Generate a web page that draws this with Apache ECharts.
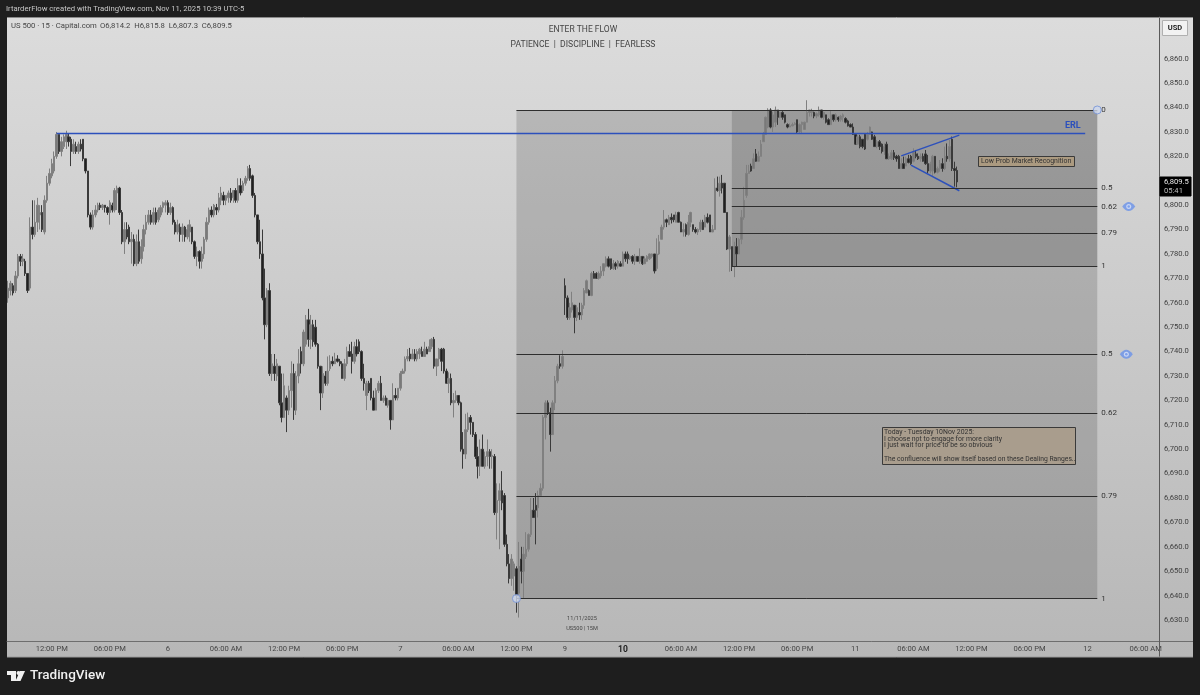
<!DOCTYPE html>
<html>
<head>
<meta charset="utf-8">
<style>html,body{margin:0;padding:0;background:#1e1e1e}#c{width:1200px;height:695px}</style>
<script src="https://cdn.jsdelivr.net/npm/echarts@6/dist/echarts.min.js"></script>
</head>
<body>
<div id="c"></div>
<script>
// Candles as [open, close, low, high], one array per session.
const nov5 = [[6762,6766,6760,6769],[6765,6768,6763,6769],[6767,6764,6763,6768],[6765,6771,6764,6773],[6771,6779,6770,6780],[6779,6777,6775,6780],[6777,6778,6775,6780],[6777,6772,6771,6778],[6772,6765,6764,6772],[6766,6791,6765,6795],
[6791,6788,6786,6802],[6788,6793,6787,6802],[6793,6800,6789,6803],[6796,6797,6790,6800],[6797,6790,6789,6800],[6789,6802,6788,6804],[6802,6809,6801,6812],[6809,6813,6808,6815],[6812,6817,6811,6819],[6814,6820,6813,6822],
[6820,6829,6819,6830],[6829,6822,6821,6829],[6822,6826,6820,6828],[6824,6828,6823,6829],[6826,6829,6823,6830.5],[6828,6826,6824,6829.5],[6827,6822,6816,6828],[6822,6825,6821,6827],[6824,6822,6821,6826],[6822,6825,6821,6826],
[6825,6823,6822,6827],[6827,6819,6818,6827],[6819,6814,6813,6819],[6814,6796,6795,6814],[6796,6791,6790,6797],[6791,6796,6790,6798],[6796,6798,6795,6800],[6798,6800,6797,6801],[6800,6799,6798,6801],[6799,6800,6798,6800.5],
[6800,6799,6797,6800],[6799,6797,6796,6799.5],[6797,6801,6792,6802],[6800,6798,6797,6801],[6798,6806,6797,6807],[6805,6807,6798,6808],[6807,6797,6796,6807.5],[6797,6785,6784,6798],[6785,6790,6780,6793],[6790,6787,6786,6793],
[6791,6785,6784,6792],[6785,6786,6776,6789],[6786,6776,6775,6788],[6776,6785,6775,6788],[6785,6777,6776,6790],[6778,6783,6776,6786],[6783,6790,6781,6792],[6790,6793,6788,6796],[6793,6796,6792,6798],[6796,6793,6792,6798],
[6793,6797,6792,6799],[6797,6793,6792,6799],[6794,6798,6793,6799],[6796,6799,6795,6800],[6799,6801,6797,6801.5],[6800,6801,6797,6802]];

const nov6 = [[6801,6797,6796,6802],[6797,6799,6796,6801],[6799,6793,6792,6799.5],[6793,6789,6788,6794],[6789,6792,6788,6794],[6791,6788,6785,6792.5],[6788,6791,6785,6792.5],[6791,6787,6785,6791.5],[6787,6790,6786,6792],[6789,6792,6785,6794],
[6791,6785,6784,6791],[6785,6779,6778,6785.5],[6779,6781,6775,6783],[6781,6777,6774,6781.5],[6777,6780,6774,6783],[6780,6786,6778,6787],[6786,6793,6785,6795],[6793,6798,6792,6799],[6798,6796,6795,6799.5],[6796,6800,6795,6800.5],
[6799,6798,6796,6800.5],[6798,6803,6797,6805],[6802,6805,6800,6807.5],[6804,6802,6800,6805.5],[6802,6804,6800,6804],[6803,6805,6801,6806],[6805,6802,6801,6807],[6803,6806,6801,6806],[6806,6802,6801,6807],[6802,6808,6801,6811],
[6808,6805,6804,6811],[6806,6809,6805,6810],[6809,6811,6808,6812],[6811,6815,6810,6816],[6815,6811,6810,6816.5],[6812,6804,6803,6812.5],[6804,6796,6795,6805],[6796,6785,6784,6796],[6785,6780,6778,6794],[6780,6762,6761,6790],
[6762,6751,6745,6774],[6751,6765,6750,6766],[6765,6731,6730,6768],[6731,6735,6728,6739],[6734,6731,6728,6739],[6730,6735,6728,6737],[6734,6719,6718,6734],[6719,6713,6711,6731],[6713,6726,6713,6731],[6721,6716,6707,6722],
[6716,6724,6714,6726],[6724,6731,6717,6736],[6731,6716,6712,6735],[6716,6730,6714,6732],[6730,6735,6727,6741],[6740,6735,6731,6742],[6735,6748,6734,6749],[6743,6753,6742,6755],[6753,6745,6742,6757.5],[6745,6751,6741,6755],
[6751,6744,6742,6753],[6750,6743,6742,6753],[6743,6734,6733,6743.5],[6734,6723,6716,6734],[6723,6731,6721,6734],[6730,6727,6726,6732],[6727,6732,6726,6738],[6733,6736,6732,6738.5],[6736,6735,6734,6738],[6735,6737,6735,6739.5],
[6737,6736,6735.5,6738.5],[6736,6735,6734,6737],[6735,6729,6729,6736],[6729,6735,6728,6737],[6735,6740,6734,6742],[6740,6738,6738,6743],[6739,6736,6731,6744],[6736,6742,6735,6744],[6742,6739,6738,6745],[6744,6740,6739,6745],
[6740,6729,6728,6740.5],[6729,6727,6724,6735],[6722,6727,6716,6728],[6727,6724,6723,6728],[6729,6721,6720,6729],[6721,6716,6716,6724],[6716,6724,6716,6725],[6724,6727,6723,6728],[6727,6720,6720,6730],[6720,6721,6719,6722],
[6721,6718,6718,6722],[6718,6720,6717,6721],[6720,6712,6708,6720],[6712,6722,6712,6727],[6722,6721,6720,6725],[6721,6725,6720,6725]];

const nov7 = [[6725,6731,6724,6732],[6731,6732,6731,6733],[6732,6737,6731,6738],[6737,6738,6736,6741],[6739,6737,6736,6741.5],[6737,6739,6737,6741],[6739,6737,6736,6741],[6737,6740,6736,6741],[6739,6741,6737,6741.5],[6740,6738,6738,6742],
[6738,6741,6738,6744],[6741,6739,6739,6742],[6740,6742,6740,6745],[6742,6745,6741,6745.5],[6745,6734,6733,6746],[6734,6737,6730,6737],[6737,6741,6734,6741.5],[6741,6736,6732,6741.5],[6741,6732,6731,6741.5],[6732,6727,6727,6733],
[6727,6729,6723,6731.5],[6729,6719,6718,6731],[6719,6720,6713,6723],[6720,6722,6719,6724],[6722,6719,6718,6722],[6719,6700,6699,6719.5],[6700,6698,6692,6707],[6698,6708,6696,6714.5],[6708,6713,6707,6715],[6713,6711,6706,6714],
[6711,6706,6705,6711],[6706,6697,6696,6707],[6697,6693,6688,6701],[6693,6700,6689,6704],[6700,6693,6693,6706],[6693,6697,6692,6699],[6697,6699,6693,6704],[6699,6697,6692,6700],[6697,6697.5,6692,6700],[6697,6674,6673,6698],
[6674,6679,6663,6686],[6679,6683,6659,6686],[6683,6678,6675,6691],[6681,6661,6660,6682],[6661,6653,6652,6665],[6653,6647,6645,6657],[6647,6655,6644,6657],[6648,6653,6642,6654],[6651,6640,6633,6652],[6641,6652,6631,6662],
[6655,6650,6645,6660],[6650,6657,6639,6660],[6656,6659,6655,6666],[6659,6665,6658,6665.5],[6665,6675,6664,6680],[6675,6672,6672,6680],[6677,6675,6661,6682],[6676,6681,6672,6683],[6681,6684,6681,6686],[6684,6713,6683,6714],
[6713,6719,6704,6720],[6719,6715,6714,6720],[6715,6706,6699,6717],[6706,6719,6706,6720],[6719,6728,6716,6730],[6728,6734,6727,6735],[6735,6734,6733,6738.5],[6734,6738,6733,6740.5]];

const nov9 = [[6767,6762,6755,6770],[6762,6754,6753,6763],[6754,6758,6753,6760],[6757,6760,6756,6764.5],[6759,6754,6747.5,6759],[6754,6758,6752.5,6759],[6756,6755,6753,6760],[6755,6759,6753,6760],[6759,6765,6757.5,6766],[6764,6769,6764,6769.5],
[6765,6763,6763,6765.5],[6763,6772,6762.7,6772.7],[6772,6770,6770,6773],[6772,6770,6770,6772.5],[6770,6772,6769.5,6772.8],[6771,6773,6770,6775],[6773,6776,6771,6776],[6775,6778,6774.5,6779],[6778,6775,6774.5,6779],[6778,6774,6773.5,6778],
[6774,6776,6773.5,6777.5],[6776,6775,6773.5,6776.8],[6775,6777,6774,6777.5],[6776,6775,6774.8,6777]];

const nov10 = [[6775,6780,6775,6781],[6780,6778,6776.8,6781],[6780,6778,6776,6781],[6778,6779,6777.5,6779.5],[6779,6777,6776,6779.5],[6777,6779,6775.5,6780],[6779,6777,6776.8,6779],[6777,6779,6776,6782.3],[6779,6776,6775.5,6779],[6776,6778,6776,6779],
[6777,6779,6776.8,6779.5],[6778,6780,6777.5,6780.2],[6779,6780,6778.2,6780.2],[6780,6773,6772,6780],[6774,6780,6773,6786.4],[6780,6785,6779.6,6787.8],[6786,6791,6786,6792],[6791,6794,6790,6798],[6794,6793,6791,6794.5],[6792,6795,6792,6796],
[6795,6794,6792.5,6796.6],[6796,6794,6793,6796],[6793,6796,6793,6797.3],[6797,6793,6793,6797.3],[6793,6789,6789,6793.3],[6789,6790,6787.1,6792.5],[6792,6788,6787.1,6792.5],[6788,6793,6787.5,6796],[6793,6797,6791,6797.3],[6792,6790,6789.1,6792],
[6790,6789,6788.4,6791],[6789,6790,6787.8,6790.5],[6790,6793,6789,6794],[6793,6790,6789.8,6794],[6791,6795,6791,6796],[6795,6793,6792.5,6796.6],[6796,6789,6789,6796],[6789,6790,6789,6791.9],[6790,6807,6789.8,6811],[6807,6806,6805.5,6811.7],
[6806,6809,6803.5,6811.7],[6809,6807,6804.8,6812.4],[6809,6797,6797,6809],[6797,6782,6781.6,6797],[6782,6787,6772.7,6787.8],[6783,6775,6773,6783],[6775,6783,6770.5,6785],[6783,6780,6775,6786.5],[6780,6786,6780,6786.5],[6786,6795,6784,6798],
[6795,6802,6794,6807.5],[6804,6813,6803,6816.5],[6813,6814,6813,6816.5],[6816,6814,6813.7,6817],[6815,6819,6815,6821.2],[6821,6818,6817.8,6823],[6818,6820,6817.8,6822],[6820,6825,6820,6826.7],[6826,6829,6826,6830],[6829,6836,6829,6836.3],
[6832,6839,6831.5,6839.7],[6839,6832,6831.5,6839.7],[6832,6837,6830,6838.3],[6834,6839,6832,6840.4],[6839,6836,6832.9,6839],[6836,6838,6835.6,6838.3],[6838,6836,6835,6838.5],[6837,6834,6833.5,6837],[6833,6832,6831.5,6833.5],[6832,6832.5,6832,6833.5],
[6832.5,6833,6832.3,6833.8],[6833,6833.5,6832.8,6834],[6835,6830,6829.4,6835],[6830,6833,6829.4,6833.5],[6833,6834,6829.4,6834.2],[6831,6834,6830.8,6834.2],[6834,6838,6834,6843],[6838,6839,6836.3,6839],[6838,6838.5,6836.3,6839.5],[6838,6836.5,6835.6,6838.3],
[6836.5,6837.5,6835.6,6838],[6837,6839,6836.3,6840.4],[6839,6836,6835.6,6839],[6836,6838,6835,6838.3],[6837,6834,6833.5,6837],[6835,6833,6833,6835.6],[6833,6837,6833,6839],[6837,6835,6834.2,6837],[6835,6837,6834.2,6837.6],[6836,6835,6834.2,6836.3],
[6835,6836.5,6834.2,6837],[6836,6837,6834.2,6837.6],[6835.5,6834,6833.5,6836],[6834.5,6832.5,6832.2,6835],[6833,6832,6832,6833.5],[6832,6829,6828.8,6833.5]];

const nov11 = [[6829,6825,6824.7,6829.5],[6825,6828,6824.7,6828.8],[6828,6824,6823.3,6828.8],[6827,6824,6823.3,6827],[6829,6823,6822.6,6829.5],[6827,6829,6826.5,6830],[6829,6832,6828.8,6832.2],[6830,6827,6826.7,6830.1],[6828,6824,6824,6828.8],[6824,6826,6823.3,6826.7],
[6826,6824,6822.6,6826.7],[6825,6822,6821.2,6825.3],[6822,6824,6820.6,6825.3],[6825,6819,6819,6826],[6819,6820,6818.5,6821.2],[6819,6821.5,6818.5,6822.6],[6821.5,6819.5,6818.5,6822.6],[6820,6819,6817.8,6820.6],[6820,6815,6815,6820.6],[6815,6817,6815,6819.2],
[6817,6815,6815,6819.9],[6816,6819,6816,6819.9],[6819,6817.5,6817.1,6820.6],[6820,6817,6816.5,6820.6],[6818,6822,6817.5,6823.3],[6821,6820,6819.2,6822.6],[6820,6819,6818.5,6821.2],[6819,6820,6817.8,6821.2],[6820,6818,6817.8,6821.2],[6821,6817,6816.5,6822.6],
[6817,6814,6813,6820.6],[6814,6817,6813,6817.8],[6814,6820,6811.7,6820.6],[6820,6813.5,6813,6820],[6813.5,6815,6813,6815.8],[6815,6817,6813.7,6818.5],[6817,6815,6813.7,6819.2],[6815,6820,6814.4,6824],[6820,6819,6817.8,6825.3],[6819,6824,6817.8,6826.7],
[6827,6815,6814,6828.1],[6815,6814.2,6807.6,6817.8],[6814.2,6809.5,6807.3,6815.8]];

// Time axis: 15-minute slots, and the slots that carry a label
const slotCount = 476;
const tickSlots  = [18,42,66,90,114,138,162,186,210,230,254,278,302,326,350,374,398,422,446,470];
const tickLabels = ['12:00 PM','06:00 PM','6','06:00 AM','12:00 PM','06:00 PM','7','06:00 AM','12:00 PM','9','10','06:00 AM','12:00 PM','06:00 PM','11','06:00 AM','12:00 PM','06:00 PM','12','06:00 AM'];
const priceTicks = [6630,6640,6650,6660,6670,6680,6690,6700,6710,6720,6730,6740,6750,6760,6770,6780,6790,6800,6810,6820,6830,6840,6850,6860];

// Dealing ranges: levels
const fibNames = ['0','0.5','0.62','0.79','1'];
const bigLevels = [6839,6738.9,6714.8,6680.8,6638.8];
const smallLevels = [6839,6807,6799.4,6788.5,6775];
const bigStart = 210, smallStart = 299, rangeEnd = 450;

const erlLevel = 6829.4, erlStart = 20, erlEnd = 445;
const wedgeUpper = [[369,6820.2],[393,6828.7]];
const wedgeLower = [[373,6816.4],[393,6805.9]];
const anchors = [[rangeEnd,6839],[bigStart,6638.8]];
const eyes = [[463,6799.4],[462,6738.9]];

const candles = [].concat(nov5,nov6,nov7,nov9,nov10,nov11);
const categories = Array.from({length:slotCount},(_,i)=>{const k=tickSlots.indexOf(i);return k>=0?tickLabels[k]:'';});

const DARK='#1e1e1e', BLUE='#2c50bc', FONT='Roboto, "Open Sans", sans-serif', TXT='#454545';
const text=(x,y,s,size,fill,o)=>({type:'text',x:x,y:y,silent:true,z:20,style:Object.assign({text:s,fontSize:size,fill:fill,fontFamily:FONT,textVerticalAlign:'top',verticalAlign:'top'},o||{})});
const box=(x,y,w,h,fill,stroke)=>({type:'rect',shape:{x:x,y:y,width:w,height:h},silent:true,z:19,style:{fill:fill,stroke:stroke,lineWidth:1}});
const seg=(x1,y1,x2,y2,c)=>({type:'line',shape:{x1:x1,y1:y1,x2:x2,y2:y2},silent:true,z:18,style:{stroke:c,lineWidth:1}});

const chart = echarts.init(document.getElementById('c'),null,{renderer:'canvas'});
chart.setOption({
  animation:false,
  backgroundColor:DARK,
  grid:{left:7,right:41,top:17,bottom:54,containLabel:false},
  xAxis:{type:'category',data:categories,boundaryGap:true,
    axisLine:{show:true,lineStyle:{color:'#6e6e6e',width:1}},axisTick:{show:false},splitLine:{show:false},
    axisLabel:{interval:(i,v)=>v!=='',margin:4,fontSize:7.6,color:TXT,fontFamily:FONT,hideOverlap:false,
      formatter:v=>v==='10'?'{b|10}':v,rich:{b:{fontWeight:'bold',fontSize:8.5,color:'#222',fontFamily:FONT}}}},
  yAxis:{type:'value',position:'right',min:6621.4,max:6877.1,scale:true,
    axisLine:{show:true,onZero:false,lineStyle:{color:'#5a5a5a',width:1}},axisTick:{show:false,customValues:priceTicks},splitLine:{show:false},
    axisLabel:{customValues:priceTicks,margin:5,fontSize:7.6,color:'#3e3e3e',fontFamily:FONT,formatter:v=>v.toLocaleString('en-US',{minimumFractionDigits:1,maximumFractionDigits:1})}},
  graphic:[
    {type:'rect',shape:{x:7,y:17,width:1186,height:640},silent:true,z:-10,
      style:{fill:new echarts.graphic.LinearGradient(0,0,0,1,[{offset:0,color:'#dcdcdc'},{offset:1,color:'#b7b7b7'}])}},
    seg(7,17.5,1193,17.5,'#8a8a8a'),seg(1159,641.5,1193,641.5,'#6e6e6e'),seg(1159.5,641,1159.5,657,'#5a5a5a'),seg(7,657,1193,657,'#9a9a9a'),
    text(6,5,'IrtarderFlow created with TradingView.com, Nov 11, 2025 10:39 UTC-5',7.7,'#c8c8c8'),
    text(11,22,'US 500 · 15 · Capital.com',7.7,TXT),
    text(100,22,'O6,814.2  H6,815.8  L6,807.3  C6,809.5',7.7,TXT),
    text(583,25.5,'ENTER THE FLOW',8.5,TXT,{textAlign:'center'}),
    text(583,40.5,'PATIENCE  |  DISCIPLINE  |  FEARLESS',8.6,TXT,{textAlign:'center'}),
    text(582,615.5,'11/11/2025',5.6,TXT,{textAlign:'center'}),
    text(582,625.5,'US500 | 15M',5.6,TXT,{textAlign:'center'}),
    text(1065,121.5,'ERL',9,BLUE,{fontWeight:'bold'}),
    box(978.5,156.5,96,10,'#ab9a80','#3a3a3a'),
    text(981,158,'Low Prob Market Recognition',6.9,'#333'),
    box(882.5,427.5,193,37,'#a99d8d','#3a3a3a'),
    text(884,428.5,'Today - Tuesday 10Nov 2025:',6.9,'#333'),
    text(884,435.3,'I choose not to engage for more clarity',6.9,'#333'),
    text(884,442.1,'I just wait for price to be so obvious',6.9,'#333'),
    text(884,455.7,'The confluence will show itself based on these Dealing Ranges..',6.75,'#333'),
    box(1162.5,20.5,25,15,'#f2f2f2','#b0b0b0'),
    text(1175,24,'USD',7.5,'#222',{textAlign:'center',fontWeight:'bold'}),
    box(1160,177,31,19,'#000','#000'),
    text(1164,178.5,'6,809.5',7.6,'#e8e8e8'),
    text(1164,187.5,'05:41',7.6,'#bdbdbd'),
    {type:'polygon',shape:{points:[[7,671],[16,671],[16,681],[11,681],[11,675],[7,675]]},silent:true,z:20,style:{fill:'#f0f0f0'}},
    {type:'circle',shape:{cx:18.5,cy:673,r:2},silent:true,z:20,style:{fill:'#f0f0f0'}},
    {type:'polygon',shape:{points:[[20,671],[25,671],[20.5,681],[15.5,681]]},silent:true,z:20,style:{fill:'#f0f0f0'}},
    text(30,668.5,'TradingView',13.5,'#f0f0f0',{fontWeight:500})
  ],
  series:[
    {type:'line',name:'ranges',data:[],z:1,silent:true,symbol:'none',
      markArea:{silent:true,itemStyle:{color:'rgba(0,0,0,0.15)'},
        data:[[{coord:[bigStart,bigLevels[0]]},{coord:[rangeEnd,bigLevels[4]]}],
              [{coord:[smallStart,smallLevels[0]]},{coord:[rangeEnd,smallLevels[4]]}]]},
      markLine:{silent:true,symbol:'none',lineStyle:{color:'#2e2e2e',width:1,type:'solid'},
        label:{show:true,position:'end',distance:4,fontSize:8,color:'#333',fontFamily:FONT,formatter:p=>p.name},
        data:[].concat(
          bigLevels.map((v,i)=>[{name:fibNames[i],coord:[bigStart,v]},{coord:[rangeEnd,v]}]),
          smallLevels.slice(1).map((v,i)=>[{name:fibNames[i+1],coord:[smallStart,v]},{coord:[rangeEnd,v]}])
        )}},
    {type:'candlestick',name:'US 500',data:candles,barWidth:2,z:3,silent:true,
      itemStyle:{color:'#797979',color0:'#202020',borderColor:'#808080',borderColor0:'#3a3a3a',borderWidth:1}},
    {type:'line',name:'ERL',data:[[erlStart,erlLevel],[erlEnd,erlLevel]],z:4,silent:true,symbol:'none',lineStyle:{color:BLUE,width:1.5}},
    {type:'line',name:'wedge upper',data:wedgeUpper,z:4,silent:true,symbol:'none',lineStyle:{color:BLUE,width:1.5}},
    {type:'line',name:'wedge lower',data:wedgeLower,z:4,silent:true,symbol:'none',lineStyle:{color:BLUE,width:1.5}},
    {type:'scatter',name:'anchors',data:anchors,z:5,silent:true,symbol:'circle',symbolSize:8,itemStyle:{color:'#cdd7ec',borderColor:'#6f8ed6',borderWidth:1}},
    {type:'scatter',name:'eyes',data:eyes,z:5,silent:true,symbol:'path://M0 5Q8 -3 16 5Q8 13 0 5Z',symbolSize:[13,9],itemStyle:{color:'#6a92ea'}},
    {type:'scatter',name:'eye rings',data:eyes,z:6,silent:true,symbol:'circle',symbolSize:5,itemStyle:{color:'#dbe4f7'}},
    {type:'scatter',name:'eye pupils',data:eyes,z:7,silent:true,symbol:'circle',symbolSize:2.5,itemStyle:{color:'#6a92ea'}}
  ]
});
</script>
</body>
</html>
